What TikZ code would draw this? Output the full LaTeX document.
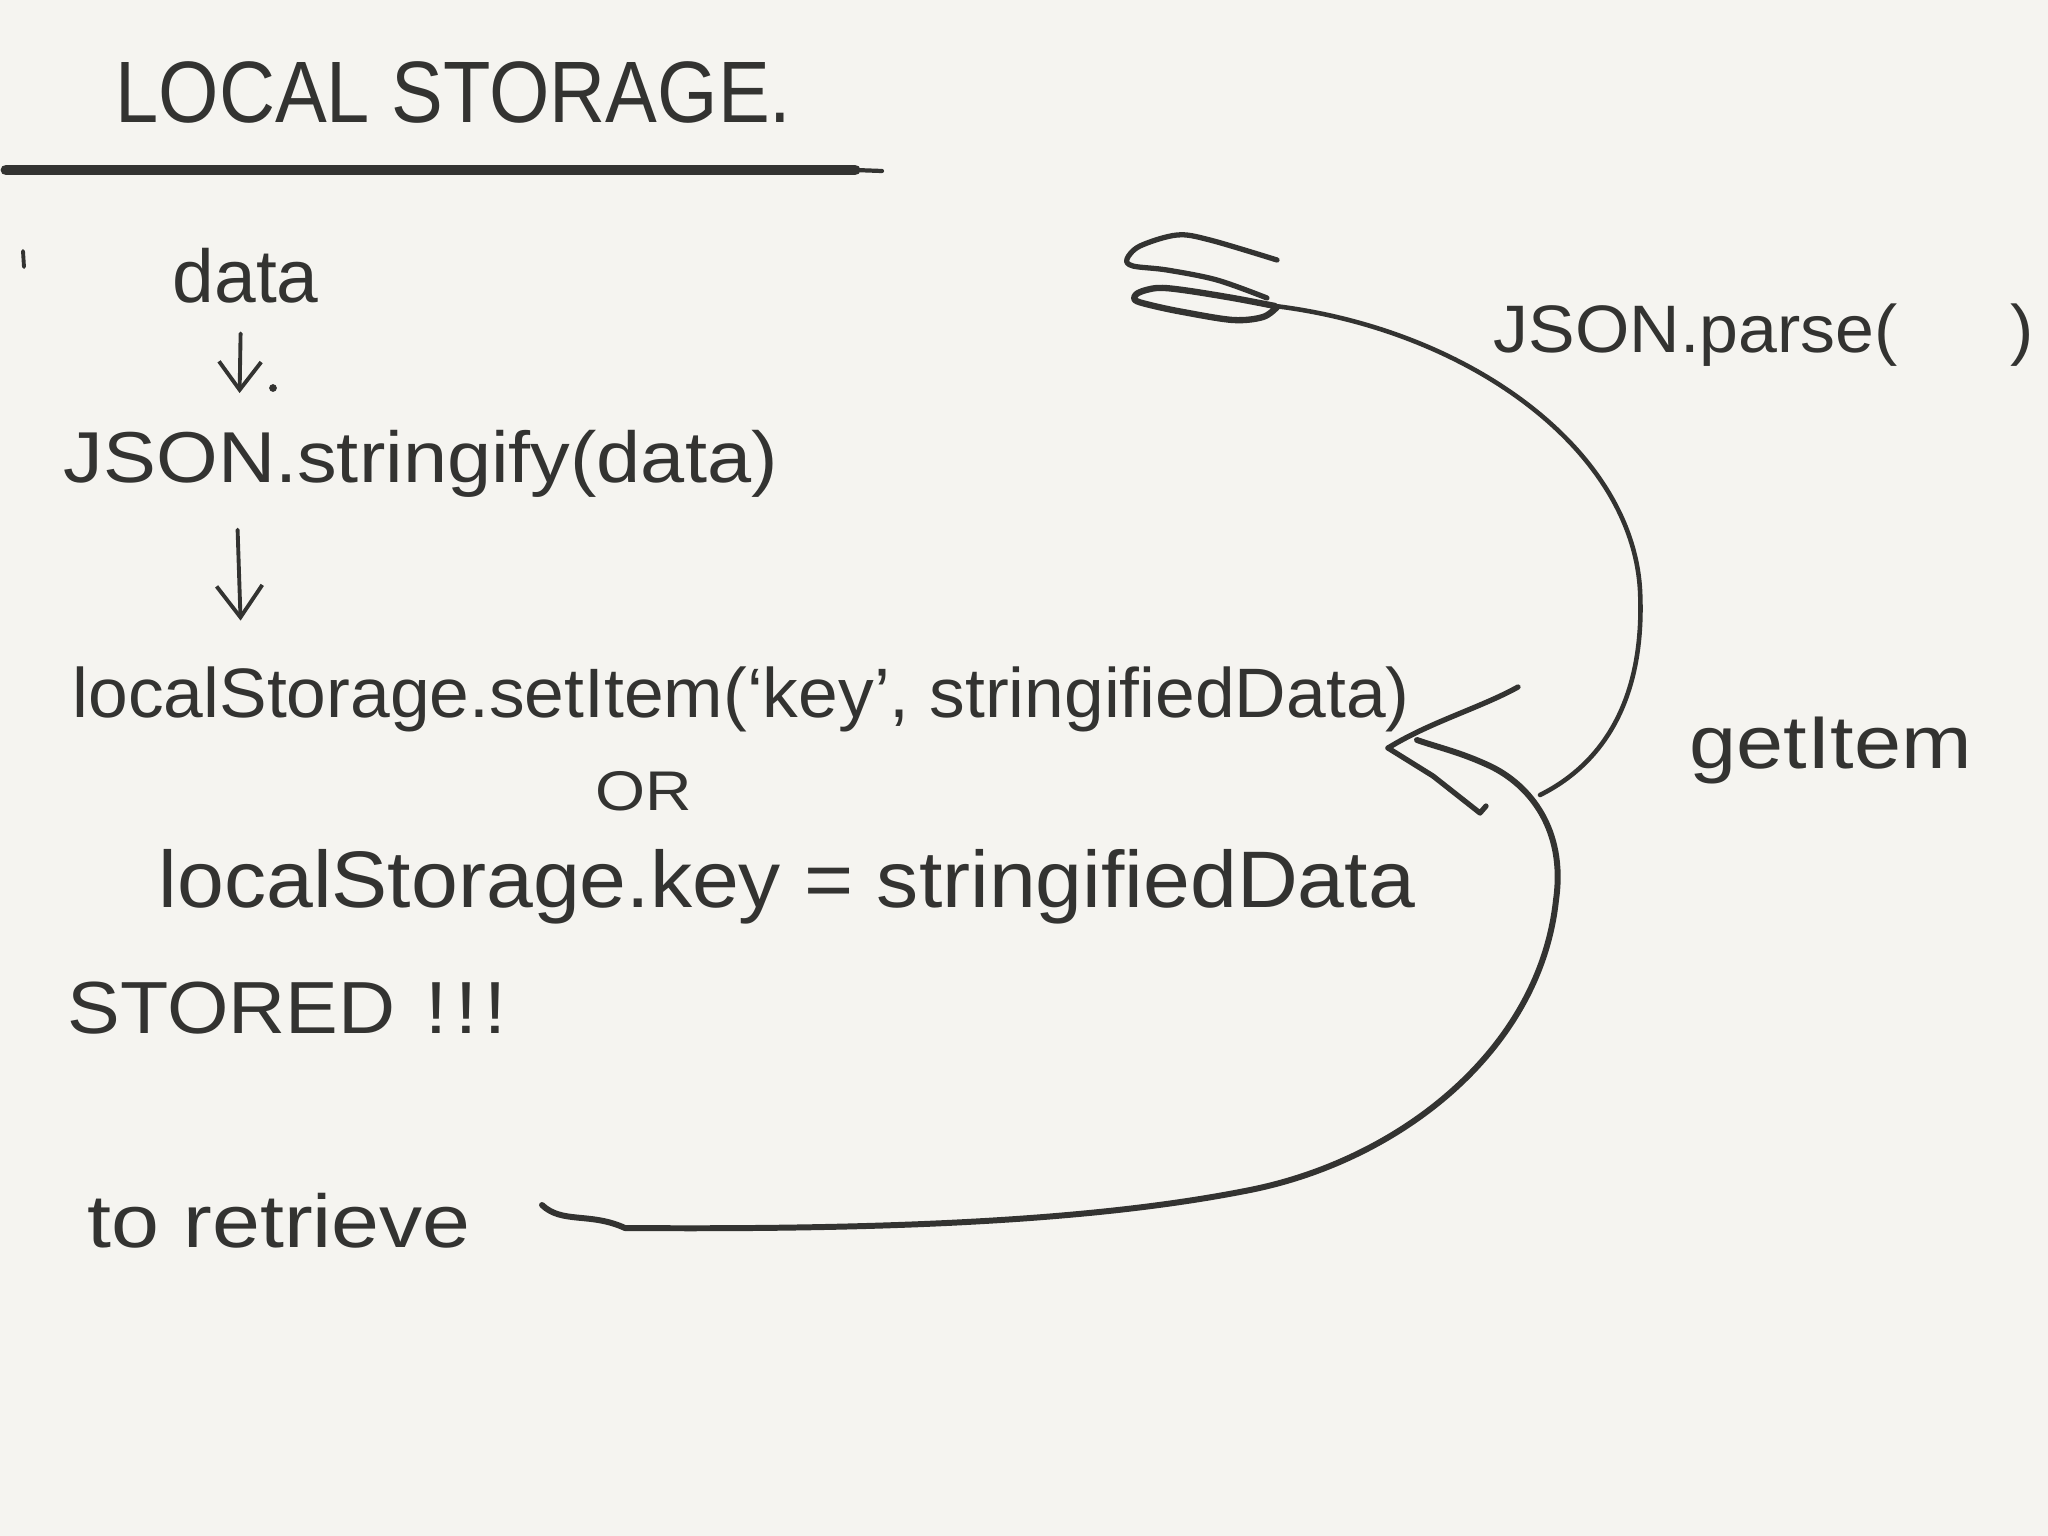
\documentclass[tikz,border=0pt]{standalone}
\usepackage{fontspec}
\setmainfont{Liberation Sans}
\usetikzlibrary{arrows.meta,calc}
\definecolor{ink}{HTML}{333331}
\definecolor{paper}{HTML}{F5F4F0}

\begin{document}
\begin{tikzpicture}[x=0.01cm,y=-0.01cm,line cap=round,line join=round,
  hand/.style={font=\fontsize{#1}{#1}\selectfont,text=ink,inner sep=0pt,anchor=base west},
  pen/.style={draw=ink,line width=1.5pt},
  arr/.style={draw=ink,line width=1.1pt,-{Straight Barb[length=8pt,width=12pt,line width=1.1pt]}}]

\fill[paper] (0,0) rectangle (2048,1536);
\useasboundingbox (0,0) rectangle (2048,1536);

\draw (115,122) node[hand=24.8pt,xscale=.89] (title) {LOCAL STORAGE.};
\draw[ink,line width=3.1pt] (6,170) -- (855,170);
\draw[ink,line width=1.2pt] (855,170) -- (882,171);

\draw[ink,line width=1.1pt] (23,251) -- (24,267);
\draw (172,302) node[hand=21.3pt] (data) {data};
\draw (63,482) node[hand=20.5pt,xscale=1.1] (json) {JSON.stringify(data)};
\draw (72,717) node[hand=19.9pt,xscale=1.02] (setitem) {localStorage.setItem(`key', stringifiedData)};
\draw (595,810) node[hand=15.9pt,xscale=1.15] (or) {OR};
\draw (158,907) node[hand=22.8pt,xscale=1.05] (keyset) {localStorage.key = stringifiedData};
\draw (67,1033) node[hand=21pt,xscale=1.07] (stored) {STORED\kern8pt!\kern2pt!\kern2pt!};
\draw (87,1247) node[hand=21.3pt,xscale=1.15] (retrieve) {to retrieve};
\draw (1493,352) node[hand=19.1pt,xscale=1.04] (parse) {JSON.parse(\hspace{1.09cm})};
\draw (1689,768) node[hand=21.3pt,xscale=1.13] (getitem) {getItem};

\draw[arr] ($(data.south)+(-5,30)$) -- ($(data.south |- json.north)+(-6,-36)$);
\fill[ink] (273,388) circle (1.1pt);
\draw[arr,-{Straight Barb[length=9pt,width=13pt,line width=1.1pt]}] ($(json.south -| data.south)+(-8,32)$) -- ($(data.south |- setitem.north)+(-5,-45)$);

\coordinate (start) at (542,1205);
\coordinate (tip) at (1388,748);
\coordinate (fork) at (1540,795);
\coordinate (swirl) at (1275,306);

\draw[pen,line width=1.7pt] (start) .. controls (562,1224) and (590,1212) .. (625,1228)
  .. controls (900,1230) and (1100,1220) .. (1250,1190)
  .. controls (1400,1160) and (1540,1050) .. (1556,900)
  .. controls (1566,830) and (1530,785) .. (1490,766)
  .. controls (1460,752) and (1440,748) .. (1417,740);
\draw[pen] (1518,687) .. controls (1480,708) and (1430,722) .. (tip);
\draw[pen] (tip) -- (1433,776) -- (1480,813) -- (1486,806);

\draw[pen,line width=1.3pt] (fork) .. controls (1610,760) and (1645,690) .. (1640,590)
  .. controls (1632,450) and (1470,330) .. (swirl);
\draw[pen,line width=1.8pt] plot[smooth,tension=.55] coordinates {(swirl) (1233,298) (1183,290) (1157,288) (1138,293) (1135,300) (1150,305) (1183,312) (1233,320) (1263,317) (1277,307)};
\draw[pen] plot[smooth,tension=.55] coordinates {(1267,298) (1217,280) (1167,270) (1133,266) (1127,259) (1140,246) (1177,235) (1210,240) (1277,260)};
\end{tikzpicture}
\end{document}
